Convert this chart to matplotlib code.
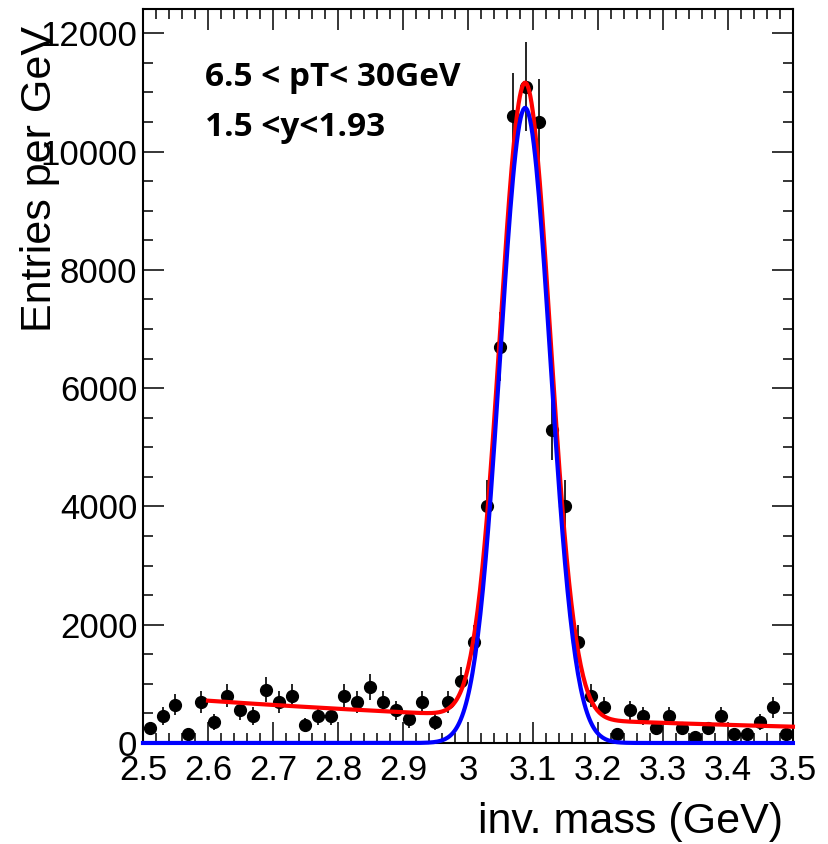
import numpy as np
import matplotlib
matplotlib.use("Agg")
import matplotlib.pyplot as plt
from matplotlib.ticker import MultipleLocator

plt.rcParams["font.family"] = ["Liberation Sans", "DejaVu Sans"]

# histogram: 50 bins of 0.02 GeV between 2.5 and 3.5 GeV
bin_lo, bin_hi, n_bins = 2.5, 3.5, 50
bin_width = (bin_hi - bin_lo) / n_bins

# raw counts per bin
counts = [5, 9, 13, 3, 14, 7, 16, 11, 9, 18,
          14, 16, 6, 9, 9, 16, 14, 19, 14, 11,
          8, 14, 7, 14, 21, 34, 80, 134, 212, 222,
          210, 106, 80, 34, 16, 12, 3, 11, 9, 5,
          9, 5, 2, 5, 9, 3, 3, 7, 12, 3]

# fit parameters (gaussian signal + exponential background)
sig_amp = 10740.0
sig_mean = 3.088
sig_sigma = 0.0386
bkg_norm = 715.0
bkg_slope = 1.06
bkg_ref = 2.6
fit_lo, fit_hi = 2.6, 3.5

pt_text = "6.5 < pT< 30GeV"
y_text = "1.5 <y<1.93"


def signal(m):
    return sig_amp * np.exp(-0.5 * ((m - sig_mean) / sig_sigma) ** 2)


def background(m):
    return bkg_norm * np.exp(-bkg_slope * (m - bkg_ref))


edges = np.linspace(bin_lo, bin_hi, n_bins + 1)
centers = 0.5 * (edges[:-1] + edges[1:])
counts = np.array(counts, dtype=float)
values = counts / bin_width
errors = np.sqrt(counts) / bin_width

fig = plt.figure(figsize=(8.29, 8.44), dpi=100)
ax = fig.add_axes([0.1725, 0.1197, 0.784, 0.8696])

ax.errorbar(centers, values, yerr=errors, fmt="o", color="black",
            markersize=8.5, elinewidth=1.2, capsize=0, zorder=2)

m_full = np.linspace(bin_lo, bin_hi, 500)
m_fit = np.linspace(fit_lo, fit_hi, 500)
ax.plot(m_fit, signal(m_fit) + background(m_fit), color="#ff0000",
        linewidth=3, zorder=3, clip_on=False)
ax.plot(m_full, signal(m_full), color="#0000ff", linewidth=3, zorder=4,
        clip_on=False)

ax.set_xlim(bin_lo, bin_hi)
ax.set_ylim(0, 12410)

ax.xaxis.set_minor_locator(MultipleLocator(0.02))
ax.yaxis.set_major_locator(MultipleLocator(2000))
ax.yaxis.set_minor_locator(MultipleLocator(500))
ax.set_xticks(np.arange(2.5, 3.51, 0.1))
ax.set_xticklabels(["2.5", "2.6", "2.7", "2.8", "2.9", "3",
                    "3.1", "3.2", "3.3", "3.4", "3.5"])

ax.tick_params(which="both", direction="in", top=True, right=True,
               labelsize=25, width=1.1)
ax.tick_params(which="major", length=15)
ax.tick_params(which="minor", length=7)
ax.tick_params(axis="x", pad=8)
ax.tick_params(axis="y", pad=4)
for sp in ax.spines.values():
    sp.set_linewidth(1.5)

fig.text(783 / 829, 1 - 822 / 844, "inv. mass (GeV)", ha="right",
         va="center", fontsize=31)
fig.text(40 / 829, 1 - 26 / 844, "Entries per GeV", ha="center",
         va="top", rotation=90, fontsize=31)

fig.text(205 / 829, 1 - 78 / 844, pt_text, ha="left", va="center",
         fontsize=24, fontweight="bold", family=["Open Sans", "DejaVu Sans"])
fig.text(205 / 829, 1 - 128 / 844, y_text, ha="left", va="center",
         fontsize=24, fontweight="bold", family=["Open Sans", "DejaVu Sans"])

fig.savefig("out.png", dpi=100)
